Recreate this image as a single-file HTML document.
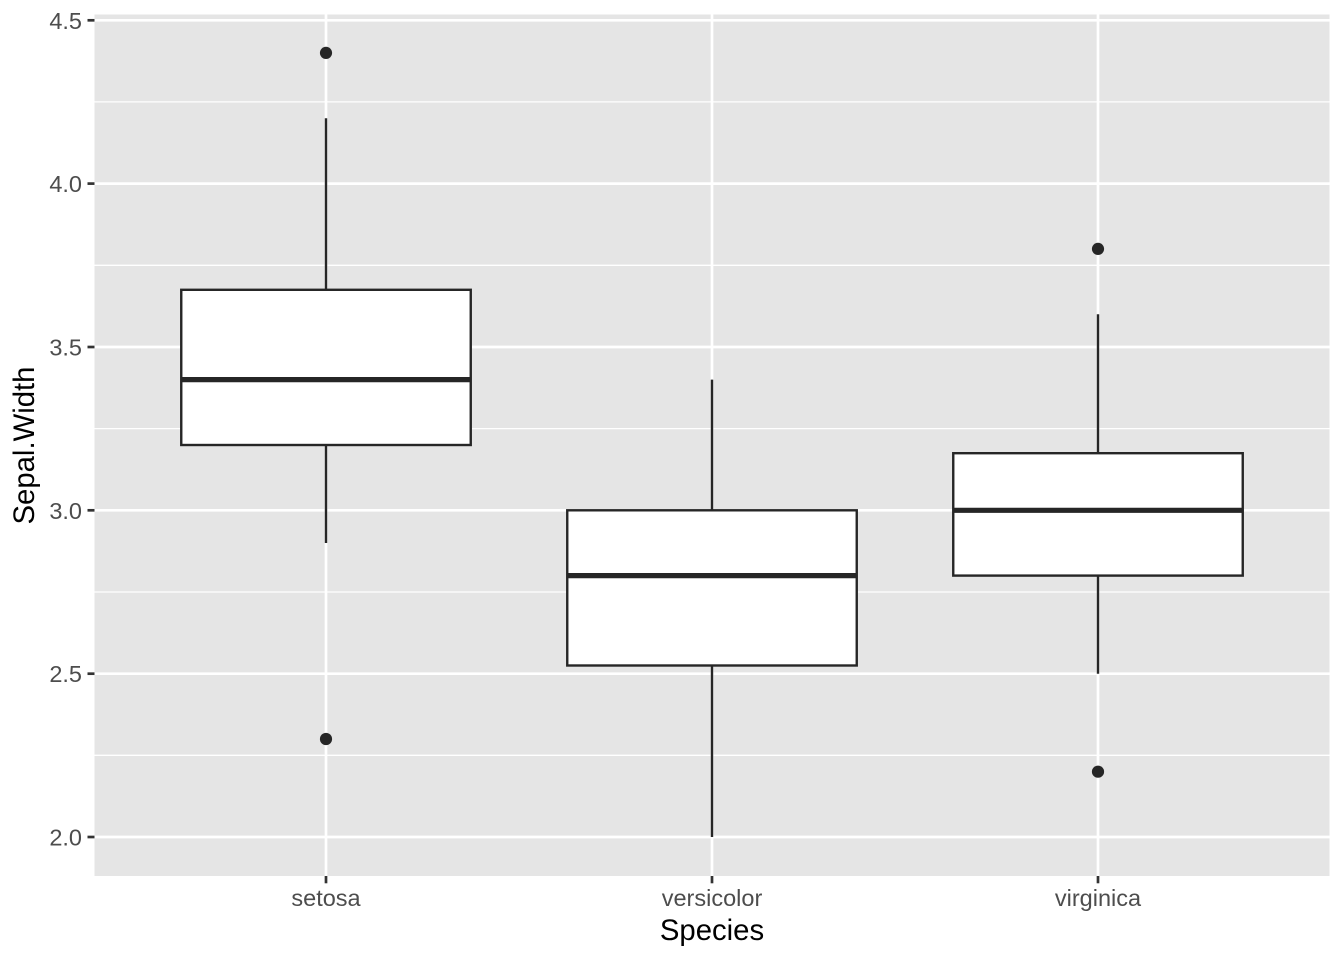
<!DOCTYPE html>
<html>
<head>
<meta charset="utf-8">
<style>
html,body{margin:0;padding:0;background:#fff;}
svg{display:block;}
text{font-family:"Liberation Sans",Arial,sans-serif;}
</style>
</head>
<body>
<svg width="1344" height="960" viewBox="0 0 1344 960" xmlns="http://www.w3.org/2000/svg">
  <rect x="0" y="0" width="1344" height="960" fill="#ffffff"/>
  <!-- panel -->
  <rect x="94.5" y="14.5" width="1235" height="861.5" fill="#E5E5E5"/>
  <!-- minor grid -->
  <g stroke="#ffffff" stroke-width="1.3">
    <line x1="94.5" x2="1329.5" y1="101.9" y2="101.9"/>
    <line x1="94.5" x2="1329.5" y1="265.3" y2="265.3"/>
    <line x1="94.5" x2="1329.5" y1="428.6" y2="428.6"/>
    <line x1="94.5" x2="1329.5" y1="592.0" y2="592.0"/>
    <line x1="94.5" x2="1329.5" y1="755.3" y2="755.3"/>
  </g>
  <!-- major grid -->
  <g stroke="#ffffff" stroke-width="2.7">
    <line x1="94.5" x2="1329.5" y1="20.3" y2="20.3"/>
    <line x1="94.5" x2="1329.5" y1="183.6" y2="183.6"/>
    <line x1="94.5" x2="1329.5" y1="347.0" y2="347.0"/>
    <line x1="94.5" x2="1329.5" y1="510.3" y2="510.3"/>
    <line x1="94.5" x2="1329.5" y1="673.7" y2="673.7"/>
    <line x1="94.5" x2="1329.5" y1="837.0" y2="837.0"/>
    <line x1="326" x2="326" y1="14.5" y2="876"/>
    <line x1="712" x2="712" y1="14.5" y2="876"/>
    <line x1="1098" x2="1098" y1="14.5" y2="876"/>
  </g>
  <!-- boxplots -->
  <g stroke="#262626" stroke-width="2.4" fill="#ffffff">
    <!-- setosa -->
    <line x1="326" x2="326" y1="118.3" y2="289.8"/>
    <line x1="326" x2="326" y1="445.0" y2="543.0"/>
    <rect x="181.25" y="289.8" width="289.5" height="155.2"/>
    <!-- versicolor -->
    <line x1="712" x2="712" y1="379.6" y2="510.3"/>
    <line x1="712" x2="712" y1="665.5" y2="837.0"/>
    <rect x="567.25" y="510.3" width="289.5" height="155.2"/>
    <!-- virginica -->
    <line x1="1098" x2="1098" y1="314.3" y2="453.2"/>
    <line x1="1098" x2="1098" y1="575.6" y2="673.7"/>
    <rect x="953.25" y="453.2" width="289.5" height="122.4"/>
  </g>
  <g stroke="#262626" stroke-width="5.2">
    <line x1="181.25" x2="470.75" y1="379.6" y2="379.6"/>
    <line x1="567.25" x2="856.75" y1="575.6" y2="575.6"/>
    <line x1="953.25" x2="1242.75" y1="510.3" y2="510.3"/>
  </g>
  <!-- outliers -->
  <g fill="#262626">
    <circle cx="326" cy="52.9" r="6.1"/>
    <circle cx="326" cy="739.0" r="6.1"/>
    <circle cx="1098" cy="248.9" r="6.1"/>
    <circle cx="1098" cy="771.7" r="6.1"/>
  </g>
  <!-- ticks -->
  <g stroke="#333333" stroke-width="2.7">
    <line x1="87.5" x2="94.5" y1="20.3" y2="20.3"/>
    <line x1="87.5" x2="94.5" y1="183.6" y2="183.6"/>
    <line x1="87.5" x2="94.5" y1="347.0" y2="347.0"/>
    <line x1="87.5" x2="94.5" y1="510.3" y2="510.3"/>
    <line x1="87.5" x2="94.5" y1="673.7" y2="673.7"/>
    <line x1="87.5" x2="94.5" y1="837.0" y2="837.0"/>
    <line x1="326" x2="326" y1="876" y2="883.3"/>
    <line x1="712" x2="712" y1="876" y2="883.3"/>
    <line x1="1098" x2="1098" y1="876" y2="883.3"/>
  </g>
  <!-- y tick labels -->
  <g fill="#4D4D4D" font-size="23.5" text-anchor="end">
    <text x="82" y="28.8">4.5</text>
    <text x="82" y="192.1">4.0</text>
    <text x="82" y="355.5">3.5</text>
    <text x="82" y="518.8">3.0</text>
    <text x="82" y="682.2">2.5</text>
    <text x="82" y="845.5">2.0</text>
  </g>
  <!-- x tick labels -->
  <g fill="#4D4D4D" font-size="23.5" text-anchor="middle">
    <text x="326" y="906">setosa</text>
    <text x="712" y="906">versicolor</text>
    <text x="1098" y="906">virginica</text>
  </g>
  <!-- axis titles -->
  <text x="712" y="940" font-size="29.3" fill="#000000" text-anchor="middle">Species</text>
  <text x="0" y="0" font-size="29.3" fill="#000000" text-anchor="middle" transform="translate(34,445.5) rotate(-90)">Sepal.Width</text>
</svg>
</body>
</html>
